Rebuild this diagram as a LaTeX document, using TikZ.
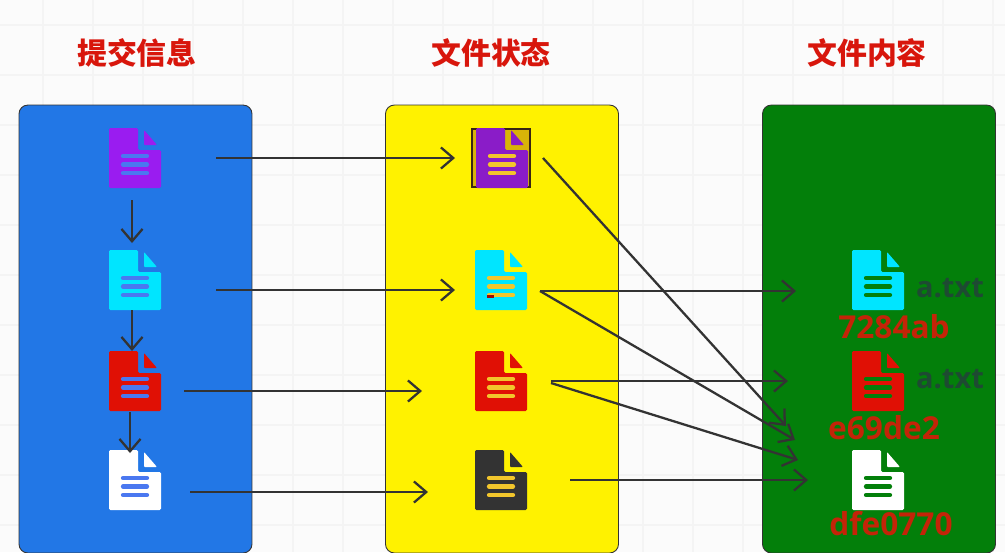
\documentclass[tikz,border=0pt]{standalone}
\usepackage{fontspec}
\setmainfont{Open Sans}
\newfontfamily\cjk{Noto Sans CJK SC}
\usetikzlibrary{arrows.meta}

\definecolor{pagebg}{HTML}{FBFBFB}
\definecolor{gridline}{HTML}{F4F4F4}
\definecolor{msgblue}{HTML}{2277E6}
\definecolor{statyellow}{HTML}{FFF200}
\definecolor{blobgreen}{HTML}{037F0A}
\definecolor{docpurple}{HTML}{9A1CF0}
\definecolor{docdeep}{HTML}{8A1CC8}
\definecolor{doccyan}{HTML}{00E5FF}
\definecolor{docred}{HTML}{E01005}
\definecolor{docdark}{HTML}{333333}
\definecolor{titlered}{HTML}{D8160C}
\definecolor{hashred}{HTML}{C42408}
\definecolor{namedark}{HTML}{1E4A32}
\definecolor{barblue}{HTML}{4A78F0}
\definecolor{bargold}{HTML}{F2C62C}
\definecolor{selgold}{HTML}{D8B408}

\tikzset{
	panel/.style={draw=docdark,line width=0.5pt,rounded corners=5pt,minimum width=4.66cm,minimum height=8.96cm,inner sep=0pt},
	title/.style={text=titlered,font=\cjk\bfseries\fontsize{17}{18}\selectfont},
	hash/.style={text=hashred,font=\bfseries\fontsize{18}{20}\selectfont},
	fname/.style={text=namedark,font=\bfseries\fontsize{16.5}{18}\selectfont},
	spot/.style={minimum width=1.04cm,minimum height=1.2cm,inner sep=0pt},
	flow/.style={draw=docdark,line width=1.3pt,-{Straight Barb[length=7pt,width=12pt,line width=1.3pt]}},
	pics/fileicon/.style n args={2}{code={
		\fill[#1,rounded corners=0.8pt] (-26,-30) -- (3,-30) -- (3,-8) -- (26,-8) -- (26,30) -- (-26,30) -- cycle;
		\fill[#1,rounded corners=0.5pt] (9,-28) -- (22,-13) -- (9,-13) -- cycle;
		\foreach \b in {-2,6.5,15}
		\draw[#2,line width=2.4pt,line cap=round] (-12,\b) -- (12,\b);
	}}
}

\begin{document}
\begin{tikzpicture}[x=0.02cm, y=-0.02cm]
	\useasboundingbox (0,0) rectangle (1005,552);
	\fill[pagebg] (0,0) rectangle (1005,552);
	\foreach \x in {43,93,...,993}
	\draw[gridline,line width=0.7pt] (\x,0) -- (\x,552);
	\foreach \y in {25,75,...,525}
	\draw[gridline,line width=0.7pt] (0,\y) -- (1005,\y);

	\node[title] (msgtitle) at (137,53) {提交信息};
	\node[title] (stattitle) at (491,53) {文件状态};
	\node[title] (blobtitle) at (867,53) {文件内容};

	\node[panel,fill=msgblue] (msgpanel) at (135.5,329) {};
	\node[panel,fill=statyellow] (statpanel) at (502,329) {};
	\node[panel,fill=blobgreen] (blobpanel) at (879,329) {};

	% selection frame behind the first status icon
	\node[spot,draw=black!70!brown,line width=0.6pt,fill=selgold,minimum width=1.16cm,minimum height=1.16cm] (statframe) at (501,158) {};

	\foreach \name/\x/\y/\body/\bar in {
		msga/135/158/docpurple/barblue,
		msgb/135/280/doccyan/barblue,
		msgc/135/381/docred/barblue,
		msgd/135/480/white/barblue,
		stata/502/158/docdeep/bargold,
		statb/501/280/doccyan/bargold,
		statc/501/381/docred/bargold,
		statd/501/480/docdark/bargold,
		bloba/878/280/doccyan/blobgreen,
		blobb/878/381/docred/blobgreen,
		blobc/878/480/white/blobgreen}
	{
		\node[spot] (\name) at (\x,\y) {};
		\pic at (\x,\y) {fileicon={\body}{\bar}};
	}
	\fill[docred!70!black] (487,295) rectangle (494,298);

	\node[fname] (namea) at (950,288) {a.txt};
	\node[fname] (nameb) at (950,379) {a.txt};
	\node[hash] (hasha) at (894,327) {7284ab};
	\node[hash] (hashb) at (884,428) {e69de2};
	\node[hash] (hashc) at (891,524) {dfe0770};

	% free ends of the connectors
	\foreach \name/\x/\y in {
		msgaout/216/158, stataleft/455/158,
		msgbout/216/290, statbleft/455/290,
		msgcout/184/391, statcleft/422/391,
		msgdout/190/492, statdleft/428/492,
		msgadown/132/200, msgbup/132/243,
		msgbdown/132/310, msgcup/132/351,
		msgcdown/130/412, msgdup/130/453,
		stataout/543/158, statbout/540/291,
		statcout/551/381, statcoutb/551/383, statdout/570/480,
		blobatip/796/291, blobbtip/788/381, blobctip/808/480,
		emptya/786/426, emptyb/795/440, emptyc/798/460}
	\coordinate (\name) at (\x,\y);

	\draw[flow] (msgaout) -- (stataleft);
	\draw[flow] (msgbout) -- (statbleft);
	\draw[flow] (msgcout) -- (statcleft);
	\draw[flow] (msgdout) -- (statdleft);

	\draw[flow] (msgadown) -- (msgbup);
	\draw[flow] (msgbdown) -- (msgcup);
	\draw[flow] (msgcdown) -- (msgdup);

	\draw[flow] (stataout) -- (emptya);
	\draw[flow] (statbout) -- (blobatip);
	\draw[flow] (statbout) -- (emptyb);
	\draw[flow] (statcout) -- (blobbtip);
	\draw[flow] (statcoutb) -- (emptyc);
	\draw[flow] (statdout) -- (blobctip);
\end{tikzpicture}
\end{document}
